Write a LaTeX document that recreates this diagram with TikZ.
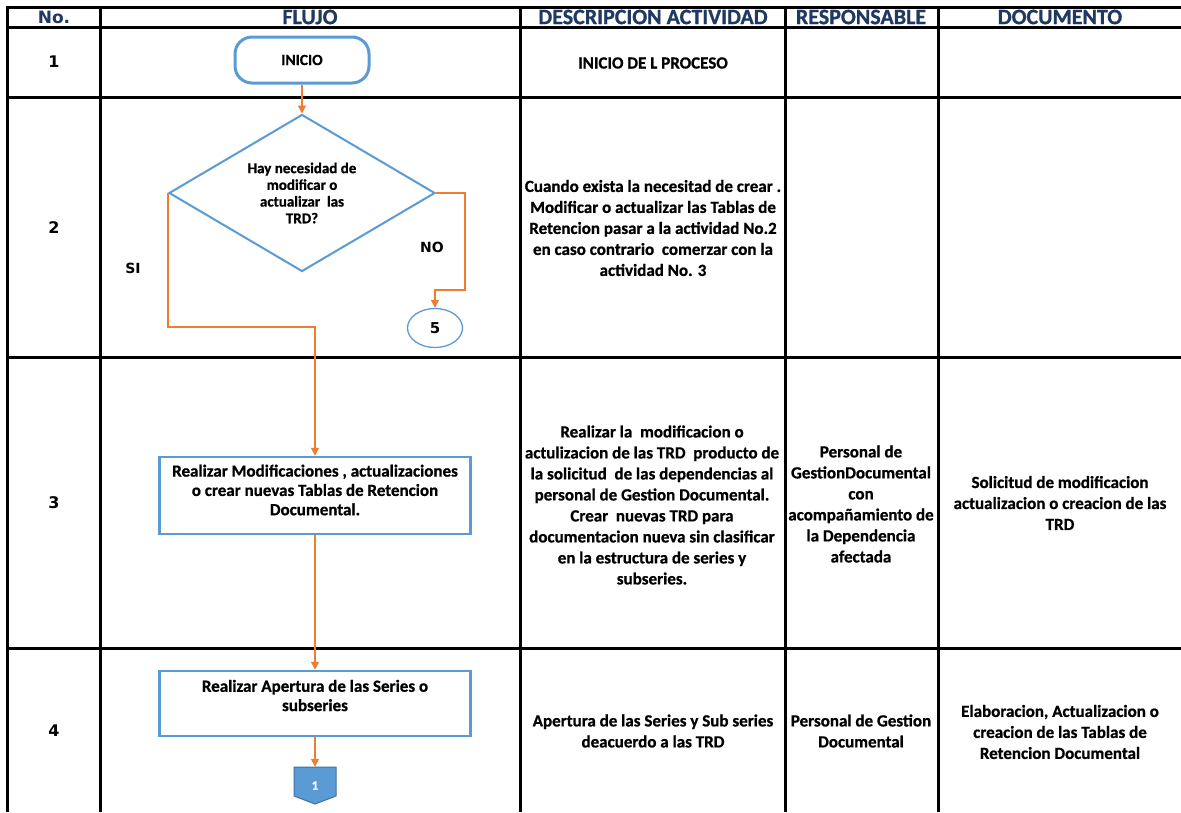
\documentclass[tikz,border=0pt]{standalone}
\usepackage{fontspec}
\setmainfont{Carlito}[BoldFeatures={FakeBold=0.8}]
\newfontfamily\dejavu{DejaVu Sans}
\usetikzlibrary{shapes.geometric,arrows.meta,calc}
\definecolor{navy}{HTML}{1F3864}
\definecolor{sblue}{HTML}{5B9BD5}
\definecolor{dblue}{HTML}{41719C}
\definecolor{orng}{HTML}{ED7D31}
\tikzset{
 tline/.style={line width=3pt, black},
 hdr/.style={font=\fontsize{22}{24}\selectfont\bfseries, text=navy, inner sep=0pt},
 hdrno/.style={font=\dejavu\fontsize{17}{20}\selectfont\bfseries, text=navy, inner sep=0pt},
 num/.style={font=\dejavu\fontsize{16}{18}\selectfont\bfseries, inner sep=0pt},
 cell/.style={font=\fontsize{17}{21}\selectfont\bfseries, align=center, inner sep=0pt},
 boxtext/.style={font=\fontsize{17}{19.3}\selectfont\bfseries, align=center, inner sep=0pt},
 lbl/.style={font=\dejavu\fontsize{14}{16}\selectfont\bfseries, inner sep=0pt},
 procbox/.style={draw=sblue, line width=2.5pt, inner sep=0pt, minimum width=311pt},
 conn/.style={draw=orng, line width=1.3pt, -{Triangle[length=8pt,width=8pt]}},
}
\begin{document}
\begin{tikzpicture}[x=1pt,y={(0pt,-1pt)}]
\useasboundingbox (0,0) rectangle (1181,812);
\fill[white] (0,0) rectangle (1181,812);
% table grid
\draw[tline] (1181,7) -- (7,7) -- (7,812);
\foreach \yy in {27,97,357,648} \draw[tline] (7,\yy) -- (1181,\yy);
\foreach \xx in {100,520,785,938} \draw[tline] (\xx,7) -- (\xx,812);
% header
\node[hdrno] (hno) at (54,17) {No.};
\node[hdr] (hfl) at (310,17) {FLUJO};
\node[hdr] (hde) at (653,17) {DESCRIPCION ACTIVIDAD};
\node[hdr] (hre) at (861,17) {RESPONSABLE};
\node[hdr] (hdo) at (1060,17) {DOCUMENTO};
% row numbers
\node[num] (n1) at (54,62) {1};
\node[num] (n2) at (54,228) {2};
\node[num] (n3) at (54,503) {3};
\node[num] (n4) at (54,731) {4};
% flow
\node[draw=sblue, line width=3pt, rounded corners=17pt, minimum width=134pt, minimum height=46pt, inner sep=0pt, font=\fontsize{15.5}{17}\selectfont\bfseries] (ini) at (302,60) {INICIO};
\node[draw=sblue, line width=2pt, diamond, shape aspect=1.7, minimum width=266pt, minimum height=157pt, inner sep=0pt, align=center, font=\fontsize{15}{16.7}\selectfont\bfseries] (d) at (302,193) {Hay necesidad de\\modificar o\\actualizar\ \ las\\TRD?};
\node[ellipse, draw=sblue, line width=1.3pt, minimum width=55pt, minimum height=39pt, inner sep=0pt, font=\dejavu\fontsize{15}{18}\selectfont\bfseries] (c5) at (435,328) {5};
\node[lbl] (lsi) at (133,268) {SI};
\node[lbl] (lno) at (432,247) {NO};
\node[procbox, minimum height=77pt] (b3) at (315,495.5) {};
\node[boxtext] (b3t) at (315,490) {Realizar Modificaciones , actualizaciones\\o crear nuevas Tablas de Retencion\\Documental.};
\node[procbox, minimum height=65pt] (b4) at (315,703.5) {};
\node[boxtext] (b4t) at (315,695.5) {Realizar Apertura de las Series o\\subseries};
\fill[sblue, draw=dblue, line width=1pt] (294,767) -- (336,767) -- (336,796) -- (315,804) -- (294,796) -- cycle;
\node[minimum width=42pt, minimum height=37pt, inner sep=0pt, text=white, font=\fontsize{13}{14}\selectfont\bfseries] (off) at (315,785.5) {1};
% connectors
\draw[conn] (ini.south) -- (d.north);
\draw[conn] (d.east) -- ++(29,0) -- ++(0,97) -| (c5.north);
\draw[conn] (d.west) -- ++(0,134) -| (b3.north);
\draw[conn] (b3.south) -- (b4.north);
\draw[conn] (b4.south) -- (off.north);
% description column
\node[cell] (t1) at (653,63) {INICIO DE L PROCESO};
\node[cell] (t2) at (653,228) {Cuando exista la necesitad de crear .\\Modificar o actualizar las Tablas de\\Retencion pasar a la actividad No.2\\en caso contrario\ \ comerzar con la\\actividad No. 3};
\node[cell] (t3) at (652,505) {Realizar la\ \ modificacion o\\actulizacion de las TRD\ \ producto de\\la solicitud\ \ de las dependencias al\\personal de Gestion Documental.\\Crear\ \ nuevas TRD para\\documentacion nueva sin clasificar\\en la estructura de series y\\subseries.};
\node[cell] (t4) at (653,731) {Apertura de las Series y Sub series\\deacuerdo a las TRD};
% responsable column
\node[cell] (r3) at (861,504) {Personal de\\GestionDocumental\\con\\acompañamiento de\\la Dependencia\\afectada};
\node[cell] (r4) at (861,731) {Personal de Gestion\\Documental};
% documento column
\node[cell] (o3) at (1060,503) {Solicitud de modificacion\\actualizacion o creacion de las\\TRD};
\node[cell] (o4) at (1060,732) {Elaboracion, Actualizacion o\\creacion de las Tablas de\\Retencion Documental};
\end{tikzpicture}
\end{document}
